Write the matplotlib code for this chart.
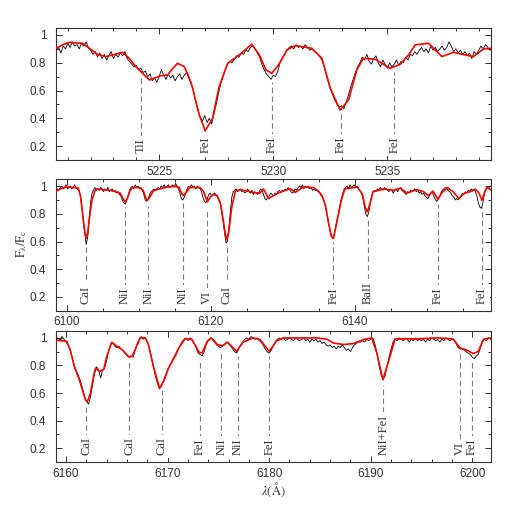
import numpy as np
import matplotlib
matplotlib.use('Agg')
import matplotlib.pyplot as plt
from matplotlib.ticker import MultipleLocator, FormatStrFormatter

plt.rcParams['mathtext.fontset'] = 'stix'

# ---------------- Panel 1 (5220-5240 A) ----------------
p1_obs_start, p1_obs_step = 5220.5, 0.1
p1_obs = [
    0.89, 0.91, 0.87, 0.92, 0.90, 0.94, 0.91, 0.95, 0.92, 0.93,
    0.90, 0.94, 0.92, 0.95, 0.91, 0.89, 0.86, 0.88, 0.84, 0.87,
    0.83, 0.86, 0.82, 0.85, 0.88, 0.83, 0.86, 0.84, 0.87, 0.85,
    0.88, 0.83, 0.81, 0.79, 0.77, 0.78, 0.75, 0.76, 0.73, 0.74,
    0.70, 0.72, 0.67, 0.69, 0.66, 0.70, 0.75, 0.71, 0.68, 0.72,
    0.69, 0.71, 0.67, 0.70, 0.72, 0.68, 0.71, 0.73, 0.69, 0.66,
    0.60, 0.52, 0.46, 0.41, 0.38, 0.42, 0.37, 0.40, 0.36, 0.43,
    0.50, 0.58, 0.65, 0.70, 0.75, 0.79, 0.81, 0.80, 0.83, 0.85,
    0.84, 0.87, 0.86, 0.89, 0.88, 0.91, 0.92, 0.90, 0.87, 0.84,
    0.79, 0.75, 0.72, 0.70, 0.68, 0.71, 0.70, 0.74, 0.80, 0.83,
    0.86, 0.89, 0.91, 0.92, 0.90, 0.93, 0.91, 0.92, 0.90, 0.93,
    0.91, 0.89, 0.90, 0.88, 0.87, 0.85, 0.83, 0.79, 0.73, 0.67,
    0.62, 0.57, 0.53, 0.50, 0.48, 0.49, 0.47, 0.52, 0.57, 0.63,
    0.68, 0.73, 0.77, 0.80, 0.84, 0.82, 0.86, 0.81, 0.79, 0.83,
    0.85, 0.80, 0.77, 0.82, 0.79, 0.76, 0.80, 0.77, 0.79, 0.82,
    0.78, 0.81, 0.80, 0.84, 0.82, 0.86, 0.85, 0.88, 0.86, 0.89,
    0.91, 0.88, 0.90, 0.87, 0.92, 0.89, 0.91, 0.88, 0.90, 0.92,
    0.89, 0.91, 0.95, 0.92, 0.88, 0.90, 0.87, 0.89, 0.86, 0.88,
    0.85, 0.87, 0.83, 0.88, 0.86, 0.89, 0.92, 0.90, 0.93, 0.91,
    0.89,
]
p1_mod_wave = [5220.48, 5220.8, 5221.06, 5221.4, 5221.65, 5221.94, 5222.3, 5222.67,
               5223.0, 5223.4, 5223.7, 5223.98, 5224.3, 5224.57, 5224.8, 5225.08,
               5225.37, 5225.6, 5225.81, 5226.1, 5226.3, 5226.47, 5226.76, 5227.02,
               5227.34, 5227.63, 5228.0, 5228.51, 5229.06, 5229.39, 5229.68, 5229.94,
               5230.23, 5230.6, 5230.96, 5231.69, 5232.13, 5232.5, 5232.93, 5233.3,
               5233.66, 5233.95, 5234.47, 5235.12, 5235.56, 5235.93, 5236.22, 5236.8,
               5237.39, 5237.9, 5238.26, 5238.77, 5239.21, 5239.58]
p1_mod_flux = [0.904, 0.93, 0.947, 0.942, 0.94, 0.904, 0.86, 0.844,
               0.858, 0.875, 0.83, 0.772, 0.72, 0.676, 0.69, 0.707,
               0.712, 0.76, 0.796, 0.772, 0.70, 0.616, 0.424, 0.31,
               0.40, 0.628, 0.796, 0.856, 0.933, 0.856, 0.748, 0.724,
               0.784, 0.892, 0.923, 0.904, 0.832, 0.616, 0.46, 0.532,
               0.748, 0.832, 0.825, 0.76, 0.789, 0.856, 0.928, 0.94,
               0.844, 0.875, 0.861, 0.844, 0.899, 0.904]
p1_line_wave = [5224.2, 5227.05, 5229.95, 5232.95, 5235.3]
p1_line_name = ['TiI', 'FeI', 'FeI', 'FeI', 'FeI']
p1_line_top = [0.70, 0.28, 0.66, 0.45, 0.73]

# ---------------- Panel 2 (6098-6159 A) ----------------
p2_obs_start, p2_obs_step = 6098.5, 0.2
p2_obs = [
    0.96, 0.98, 0.97, 0.99, 1.00, 0.98, 0.99, 1.01, 0.98, 0.99,
    1.00, 0.98, 0.99, 1.01, 0.99, 0.98, 0.97, 0.93, 0.85, 0.75,
    0.66, 0.58, 0.63, 0.76, 0.88, 0.95, 0.97, 0.99, 0.97, 0.98,
    0.97, 0.99, 0.98, 0.96, 0.98, 0.97, 0.99, 0.96, 0.97, 0.98,
    0.96, 0.97, 0.95, 0.96, 0.94, 0.93, 0.90, 0.88, 0.87, 0.89,
    0.93, 0.97, 0.99, 1.00, 0.98, 1.01, 0.99, 1.00, 0.98, 0.99,
    0.97, 0.94, 0.90, 0.89, 0.91, 0.94, 0.96, 0.97, 0.98, 0.97,
    0.98, 0.99, 0.98, 1.00, 0.99, 1.01, 0.99, 1.00, 1.01, 0.99,
    1.00, 1.01, 0.99, 1.02, 1.00, 0.98, 0.95, 0.91, 0.90, 0.92,
    0.95, 0.98, 1.00, 0.99, 1.01, 0.99, 1.00, 0.98, 1.00, 0.99,
    0.98, 0.96, 0.92, 0.89, 0.88, 0.91, 0.94, 0.95, 0.93, 0.94,
    0.95, 0.94, 0.92, 0.90, 0.88, 0.82, 0.74, 0.66, 0.59, 0.60,
    0.70, 0.82, 0.92, 0.96, 0.97, 0.98, 0.96, 0.97, 0.98, 0.96,
    0.97, 0.95, 0.96, 0.98, 0.96, 0.95, 0.97, 0.94, 0.96, 0.95,
    0.94, 0.96, 0.98, 0.97, 0.94, 0.91, 0.90, 0.92, 0.93, 0.95,
    0.94, 0.93, 0.95, 0.94, 0.96, 0.97, 0.95, 0.97, 0.96, 0.98,
    0.97, 0.99, 0.98, 0.96, 0.95, 0.96, 0.98, 0.97, 0.99, 1.00,
    0.99, 1.01, 0.98, 1.00, 0.99, 1.00, 0.98, 0.99, 0.97, 0.98,
    0.97, 0.97, 0.96, 0.95, 0.93, 0.92, 0.89, 0.85, 0.80, 0.74,
    0.69, 0.64, 0.62, 0.65, 0.71, 0.76, 0.80, 0.86, 0.91, 0.95,
    0.98, 0.99, 1.00, 0.98, 1.01, 0.99, 1.00, 1.01, 0.99, 1.00,
    0.98, 0.97, 0.95, 0.91, 0.85, 0.80, 0.78, 0.81, 0.87, 0.93,
    0.96, 0.97, 0.96, 0.98, 0.97, 0.99, 0.98, 0.97, 0.99, 0.98,
    0.97, 0.96, 0.98, 0.97, 0.95, 0.97, 0.98, 0.96, 0.98, 0.99,
    0.97, 0.96, 0.95, 0.94, 0.96, 0.95, 0.97, 0.96, 0.97, 0.98,
    0.96, 0.97, 0.95, 0.96, 0.94, 0.95, 0.93, 0.92, 0.91, 0.93,
    0.95, 0.96, 0.93, 0.91, 0.89, 0.90, 0.92, 0.95, 0.97, 0.98,
    0.99, 0.98, 0.97, 0.96, 0.95, 0.93, 0.92, 0.90, 0.91, 0.90,
    0.92, 0.93, 0.95, 0.94, 0.96, 0.95, 0.97, 0.96, 0.98, 0.97,
    0.98, 0.96, 0.93, 0.88, 0.85, 0.84, 0.87, 0.93, 0.97, 0.99,
    0.98, 1.00,
]
p2_mod_wave = [6098.5, 6099.3, 6100.0, 6101.0, 6101.6, 6101.9, 6102.2, 6102.5, 6102.7,
               6102.9, 6103.2, 6103.5, 6103.9, 6104.2, 6105.0, 6106.0, 6106.8, 6107.4,
               6107.8, 6108.1, 6108.4, 6108.8, 6109.1, 6110.0, 6110.6, 6111.0, 6111.2,
               6111.5, 6112.0, 6112.5, 6113.9, 6115.0, 6115.6, 6116.0, 6116.2, 6116.5,
               6117.1, 6118.5, 6119.0, 6119.5, 6119.9, 6120.4, 6120.9, 6121.3, 6121.7,
               6122.0, 6122.2, 6122.5, 6122.9, 6123.4, 6124.0, 6125.0, 6125.8, 6126.8,
               6127.3, 6128.0, 6129.1, 6130.0, 6131.0, 6131.7, 6132.8, 6134.2, 6134.8,
               6135.4, 6135.9, 6136.3, 6136.7, 6137.0, 6137.4, 6137.7, 6138.1, 6138.6,
               6140.3, 6141.0, 6141.4, 6141.7, 6142.0, 6142.5, 6144.0, 6145.3, 6146.3,
               6147.2, 6148.6, 6149.5, 6150.2, 6150.8, 6151.5, 6152.0, 6152.8, 6153.6,
               6154.4, 6155.2, 6156.0, 6156.7, 6157.2, 6157.6, 6158.0, 6158.3, 6158.8]
p2_mod_flux = [0.964, 0.985, 0.993, 0.99, 0.985, 0.93, 0.80, 0.67, 0.624,
               0.66, 0.79, 0.90, 0.965, 0.98, 0.975, 0.97, 0.96, 0.95,
               0.91, 0.886, 0.91, 0.97, 0.99, 0.99, 0.97, 0.91, 0.898,
               0.92, 0.965, 0.975, 0.993, 1.0, 0.99, 0.94, 0.933, 0.95,
               0.99, 0.99, 0.96, 0.886, 0.92, 0.94, 0.93, 0.88, 0.76,
               0.65, 0.612, 0.68, 0.85, 0.964, 0.975, 0.965, 0.955, 0.95,
               0.98, 0.91, 0.945, 0.965, 0.981, 0.955, 0.993, 0.99, 0.97,
               0.934, 0.86, 0.74, 0.64, 0.624, 0.72, 0.80, 0.90, 0.981,
               0.993, 0.945, 0.85, 0.814, 0.86, 0.96, 0.98, 0.97, 0.985,
               0.95, 0.975, 0.96, 0.93, 0.965, 0.904, 0.95, 0.99, 0.96,
               0.91, 0.95, 0.96, 0.978, 0.95, 0.898, 0.96, 0.99, 0.975]
p2_line_wave = [6102.67, 6108.08, 6111.3, 6116.1, 6119.5, 6122.2, 6137.0, 6141.74, 6151.46, 6157.6]
p2_line_name = ['CaI', 'NiI', 'NiI', 'NiI', 'VI', 'CaI', 'FeI', 'BaII', 'FeI', 'FeI']
p2_line_top = [0.56, 0.85, 0.86, 0.88, 0.84, 0.56, 0.60, 0.78, 0.87, 0.85]

# ---------------- Panel 3 (6159-6202 A) ----------------
p3_obs_start, p3_obs_step = 6159.0, 0.2
p3_obs = [
    0.99, 1.00, 0.98, 1.01, 0.99, 0.97, 0.95, 0.91, 0.86, 0.80,
    0.76, 0.73, 0.69, 0.64, 0.58, 0.54, 0.52, 0.57, 0.66, 0.74,
    0.79, 0.77, 0.71, 0.77, 0.78, 0.84, 0.91, 0.96, 0.96, 0.94,
    0.93, 0.94, 0.92, 0.91, 0.89, 0.87, 0.86, 0.87, 0.86, 0.91,
    0.96, 0.99, 1.01, 0.99, 1.00, 0.97, 0.93, 0.86, 0.79, 0.72,
    0.67, 0.63, 0.65, 0.69, 0.73, 0.77, 0.80, 0.82, 0.85, 0.87,
    0.91, 0.94, 0.97, 0.99, 1.00, 0.98, 1.00, 0.99, 0.96, 0.93,
    0.89, 0.88, 0.87, 0.90, 0.95, 0.98, 1.00, 0.99, 0.97, 0.95,
    0.94, 0.93, 0.94, 0.95, 0.97, 0.96, 0.94, 0.92, 0.90, 0.89,
    0.92, 0.95, 0.97, 0.99, 1.00, 0.99, 1.01, 1.00, 0.99, 1.00,
    0.98, 0.97, 0.95, 0.92, 0.90, 0.89, 0.91, 0.94, 0.97, 0.99,
    1.00, 0.99, 1.00, 0.98, 0.99, 1.00, 0.99, 0.98, 1.00, 0.99,
    0.98, 0.99, 1.00, 0.98, 0.99, 0.97, 0.99, 0.98, 0.99, 0.97,
    0.98, 0.96, 0.97, 0.95, 0.94, 0.95, 0.93, 0.94, 0.92, 0.94,
    0.93, 0.95, 0.93, 0.91, 0.92, 0.90, 0.93, 0.95, 0.96, 0.97,
    0.97, 0.98, 0.97, 0.99, 0.98, 0.99, 1.00, 0.96, 0.89, 0.81,
    0.74, 0.70, 0.72, 0.79, 0.86, 0.92, 0.97, 0.99, 0.98, 1.00,
    0.99, 0.98, 1.00, 0.99, 0.97, 0.99, 0.98, 1.00, 0.98, 0.99,
    0.98, 0.99, 0.97, 0.99, 0.98, 1.00, 0.99, 0.98, 0.99, 0.97,
    0.99, 0.98, 1.00, 0.99, 0.98, 0.99, 0.98, 0.96, 0.93, 0.92,
    0.92, 0.91, 0.90, 0.89, 0.88, 0.86, 0.85, 0.87, 0.88, 0.93,
    0.97, 0.99, 0.98, 1.00, 0.99,
]
p3_mod_wave = [6159.0, 6160.05, 6160.4, 6160.8, 6161.3, 6161.9, 6162.1, 6162.4, 6162.7,
               6162.9, 6163.3, 6163.7, 6164.0, 6164.5, 6165.0, 6165.5, 6166.2, 6166.5,
               6166.8, 6167.3, 6167.8, 6168.1, 6168.6, 6169.2, 6169.6, 6170.1, 6170.6,
               6171.1, 6171.7, 6172.4, 6173.1, 6173.4, 6173.9, 6174.3, 6174.9, 6175.4,
               6175.9, 6176.8, 6177.4, 6178.4, 6179.1, 6180.0, 6180.7, 6181.4, 6183.0,
               6184.7, 6185.7, 6186.3, 6187.3, 6188.3, 6189.3, 6190.1, 6190.6, 6191.2,
               6191.9, 6192.4, 6194.5, 6196.5, 6198.1, 6198.8, 6199.5, 6200.1, 6200.6,
               6201.1, 6201.8]
p3_mod_flux = [0.983, 0.976, 0.915, 0.794, 0.697, 0.551, 0.539, 0.599, 0.721,
               0.782, 0.757, 0.77, 0.866, 0.968, 0.939, 0.915, 0.861, 0.866,
               0.915, 1.0, 1.0, 0.952, 0.794, 0.636, 0.685, 0.782, 0.854,
               0.927, 0.993, 0.988, 0.896, 0.891, 0.976, 1.0, 0.952, 0.944,
               0.968, 0.903, 0.968, 1.0, 0.988, 0.903, 0.976, 1.0, 1.0,
               1.0, 0.99, 0.963, 0.952, 0.959, 0.988, 1.0, 0.891, 0.697,
               0.866, 0.993, 0.993, 1.0, 0.993, 0.927, 0.91, 0.886, 0.903,
               0.99, 1.0]
p3_line_wave = [6162.0, 6166.2, 6169.4, 6173.2, 6175.3, 6176.9, 6180.0, 6191.25, 6198.8, 6199.95]
p3_line_name = ['CaI', 'CaI', 'CaI', 'FeI', 'NiI', 'NiI', 'FeI', 'NiI+FeI', 'VI', 'FeI']
p3_line_top = [0.50, 0.83, 0.62, 0.85, 0.90, 0.87, 0.87, 0.66, 0.88, 0.83]

panels = [
    dict(start=p1_obs_start, step=p1_obs_step, obs=p1_obs, mw=p1_mod_wave, mf=p1_mod_flux,
         lw=p1_line_wave, ln=p1_line_name, lt=p1_line_top, xlim=(5220.48, 5239.52),
         major=5, minor=1, rect=(0.108, 0.691, 0.839, 0.255)),
    dict(start=p2_obs_start, step=p2_obs_step, obs=p2_obs, mw=p2_mod_wave, mf=p2_mod_flux,
         lw=p2_line_wave, ln=p2_line_name, lt=p2_line_top, xlim=(6098.5, 6158.8),
         major=20, minor=5, rect=(0.108, 0.400, 0.839, 0.254)),
    dict(start=p3_obs_start, step=p3_obs_step, obs=p3_obs, mw=p3_mod_wave, mf=p3_mod_flux,
         lw=p3_line_wave, ln=p3_line_name, lt=p3_line_top, xlim=(6159.0, 6201.8),
         major=10, minor=2, rect=(0.108, 0.108, 0.839, 0.253)),
]

fig = plt.figure(figsize=(5.18, 5.18), dpi=100)
tick_font = 'Liberation Sans'
label_font = 'Liberation Serif'

for p in panels:
    ax = fig.add_axes(p['rect'])
    obs = np.asarray(p['obs'])
    wave = p['start'] + p['step'] * np.arange(len(obs))
    ax.plot(wave, obs, color='black', lw=0.6, zorder=3)
    ax.plot(p['mw'], p['mf'], color='red', lw=1.2, zorder=4)
    for xw, name, top in zip(p['lw'], p['ln'], p['lt']):
        ax.plot([xw, xw], [0.2, top], color='#7f7f7f', lw=0.8,
                dashes=(5, 3), zorder=1)
        ax.text(xw, 0.15, name, rotation=90, ha='center', va='bottom',
                fontsize=9, family=label_font, color='#333333', zorder=2,
                bbox=dict(boxstyle='square,pad=0.2', fc='white', ec='none'))
    ax.set_xlim(*p['xlim'])
    ax.set_ylim(0.1, 1.05)
    ax.xaxis.set_major_locator(MultipleLocator(p['major']))
    ax.xaxis.set_minor_locator(MultipleLocator(p['minor']))
    ax.yaxis.set_major_locator(MultipleLocator(0.2))
    ax.yaxis.set_minor_locator(MultipleLocator(0.1))
    ax.yaxis.set_major_formatter(FormatStrFormatter('%g'))
    ax.xaxis.set_major_formatter(FormatStrFormatter('%d'))
    ax.tick_params(which='both', direction='in', top=True, right=True,
                   color='#333333', width=0.7)
    ax.tick_params(which='major', length=4.5)
    ax.tick_params(which='minor', length=2.2)
    ax.tick_params(axis='x', pad=4)
    ax.tick_params(axis='y', pad=7)
    for lab in ax.get_xticklabels() + ax.get_yticklabels():
        lab.set_family(tick_font)
        lab.set_fontsize(8.5)
        lab.set_color('#333333')
    for s in ax.spines.values():
        s.set_linewidth(0.8)
        s.set_color('#333333')

fig.text(0.042, 0.529, r'$\mathrm{F_{\lambda}/F_{c}}$', rotation=90,
         ha='center', va='center', fontsize=9, color='#333333')
fig.text(0.527, 0.054, r'$\lambda(\mathrm{\AA})$', ha='center', va='center',
         fontsize=9, color='#333333')

fig.savefig('out.png', dpi=100)
